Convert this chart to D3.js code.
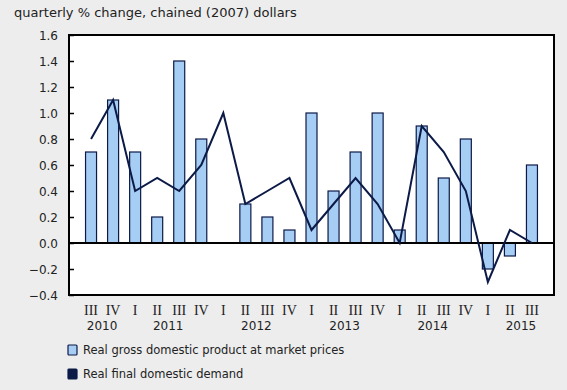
<!DOCTYPE html>
<html><head><meta charset="utf-8">
<script src="https://cdn.jsdelivr.net/npm/d3@7"></script>
<style>
html,body{margin:0;padding:0;background:#ededed;}
svg{display:block;}
</style></head>
<body>
<svg id="chart" width="567" height="390"></svg>
<script>
const quarters = ["III","IV","I","II","III","IV","I","II","III","IV","I","II","III","IV","I","II","III","IV","I","II","III"];
const years = ["2010","2010","2011","2011","2011","2011","2012","2012","2012","2012","2013","2013","2013","2013","2014","2014","2014","2014","2015","2015","2015"];
const gdp = [0.7,1.1,0.7,0.2,1.4,0.8,0.0,0.3,0.2,0.1,1.0,0.4,0.7,1.0,0.1,0.9,0.5,0.8,-0.2,-0.1,0.6];
const demand = [0.8,1.1,0.4,0.5,0.4,0.6,1.0,0.3,0.4,0.5,0.1,0.3,0.5,0.3,0.0,0.9,0.7,0.4,-0.3,0.1,0.0];
const yTicks = [-0.4,-0.2,0.0,0.2,0.4,0.6,0.8,1.0,1.2,1.4,1.6];
const yearLabels = ["2010","2011","2012","2013","2014","2015"];
const yearLabelBetween = [[0,1],[3,4],[7,8],[11,12],[15,16],[19,20]];
const legendLabels = ["Real gross domestic product at market prices","Real final domestic demand"];
const title = "quarterly % change, chained (2007) dollars";

const svg = d3.select("#chart");
const L = 69, R = 554, T = 35, B = 295;
const idx = d3.range(quarters.length);
const x = d3.scalePoint().domain(idx).range([L, R]).padding(1);
const y = d3.scaleLinear().domain([-0.4, 1.6]).range([B, T]);
const barFill = "#a6cdf4", navy = "#0c1a47";

svg.append("text").attr("x", 14).attr("y", 17)
  .attr("font-family", "DejaVu Sans, Verdana, sans-serif").attr("font-size", 13)
  .attr("fill", "#222").text(title);

svg.append("rect").attr("x", L).attr("y", T).attr("width", R - L).attr("height", B - T)
  .attr("fill", "#fff");

// y axis ticks inside
const yAxis = d3.axisRight(y).tickValues(yTicks).tickSize(5).tickFormat("");
const ga = svg.append("g").attr("transform", `translate(${L},0)`).call(yAxis);
ga.select(".domain").remove();
ga.selectAll("line").attr("stroke", "#000").attr("stroke-width", 1.5);

svg.append("g").selectAll("text").data(yTicks).join("text")
  .attr("x", 58).attr("y", d => y(d) + 4.5).attr("text-anchor", "end")
  .attr("font-family", "DejaVu Sans, Verdana, sans-serif").attr("font-size", 12)
  .attr("fill", "#222").text(d => d3.format(".1f")(d).replace("-", "-"));

const bw = 11;
svg.append("g").selectAll("rect").data(idx.filter(i => gdp[i] !== 0)).join("rect")
  .attr("x", i => x(i) - bw / 2)
  .attr("y", i => y(Math.max(0, gdp[i])))
  .attr("width", bw)
  .attr("height", i => Math.abs(y(gdp[i]) - y(0)))
  .attr("fill", barFill).attr("stroke", navy).attr("stroke-width", 1.2);

svg.append("line").attr("x1", L).attr("x2", R).attr("y1", y(0)).attr("y2", y(0))
  .attr("stroke", "#000").attr("stroke-width", 2);

svg.append("path").datum(idx)
  .attr("d", d3.line().x(i => x(i)).y(i => y(demand[i])))
  .attr("fill", "none").attr("stroke", navy).attr("stroke-width", 2).attr("stroke-linejoin", "miter");

svg.append("rect").attr("x", L).attr("y", T).attr("width", R - L).attr("height", B - T)
  .attr("fill", "none").attr("stroke", "#000").attr("stroke-width", 2);

svg.append("g").selectAll("text").data(idx).join("text")
  .attr("x", i => x(i)).attr("y", 315).attr("text-anchor", "middle")
  .attr("font-family", "Liberation Serif, Times New Roman, serif").attr("font-size", 14)
  .attr("fill", "#222").text(i => quarters[i]);

svg.append("g").selectAll("text").data(yearLabels).join("text")
  .attr("x", (d, k) => (x(yearLabelBetween[k][0]) + x(yearLabelBetween[k][1])) / 2)
  .attr("y", 330).attr("text-anchor", "middle")
  .attr("font-family", "DejaVu Sans, Verdana, sans-serif").attr("font-size", 12)
  .attr("fill", "#222").text(d => d);

const leg = svg.append("g").selectAll("g").data(legendLabels).join("g")
  .attr("transform", (d, k) => `translate(68,${345 + k * 24})`);
leg.append("rect").attr("width", 9).attr("height", 10).attr("rx", 1)
  .attr("fill", (d, k) => k === 0 ? barFill : navy).attr("stroke", navy).attr("stroke-width", 1.2);
leg.append("text").attr("x", 15).attr("y", 9)
  .attr("font-family", "DejaVu Sans, Verdana, sans-serif").attr("font-size", 11.5)
  .attr("fill", "#222").text(d => d);
</script>
</body></html>
